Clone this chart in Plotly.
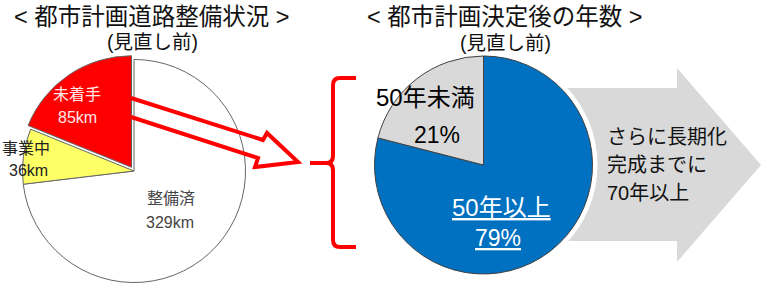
import plotly.graph_objects as go

W, H = 762, 287

# ---- data ----
road_labels = ["未着手", "事業中", "整備済"]
road_km = [85, 36, 329]
road_colors = ["#ff0000", "#ffff66", "#ffffff"]
road_pull = [0.04, 0, 0]

age_labels = ["50年未満", "50年以上"]
age_pct = [21, 79]
age_colors = ["#d9d9d9", "#0070c0"]

title_left = "< 都市計画道路整備状況 >"
title_right = "< 都市計画決定後の年数 >"
subtitle = "(見直し前)"
arrow_text = ["さらに長期化", "完成までに", "70年以上"]

FONT = "Liberation Sans, Arial, Noto Sans CJK JP, sans-serif"


def px(x):
    return x / W


def py(y):
    return 1 - y / H


fig = go.Figure()

# slices drawn clockwise from 12 o'clock, so the first listed slice
# (未着手) must end at 12 o'clock -> pass the arrays reversed
fig.add_trace(go.Pie(
    labels=road_labels[::-1], values=road_km[::-1], sort=False,
    direction="clockwise", rotation=0, pull=road_pull[::-1],
    marker=dict(colors=road_colors[::-1], line=dict(color="#666666", width=1)),
    textinfo="none", hoverinfo="label+value", showlegend=False,
    domain=dict(x=[px(17), px(251)], y=[0, py(55)]),
))

fig.add_trace(go.Pie(
    labels=age_labels[::-1], values=age_pct[::-1], sort=False,
    direction="clockwise", rotation=0,
    marker=dict(colors=age_colors[::-1], line=dict(color="#404040", width=1)),
    textinfo="none", hoverinfo="label+percent", showlegend=False,
    domain=dict(x=[px(374.5), px(592.5)], y=[py(274), py(56)]),
))


def P(*pts):
    return " ".join(f"{c}{px(x):.5f},{py(y):.5f}" for c, x, y in pts)


shapes = []
# grey block arrow behind the right pie
shapes.append(dict(
    type="path", xref="paper", yref="paper", layer="below",
    path=P(("M", 560, 88), ("L", 677, 88), ("L", 677, 68), ("L", 761, 165),
           ("L", 677, 262), ("L", 677, 241), ("L", 560, 241)) + " Z",
    fillcolor="#d9d9d9", line=dict(width=0),
))
# white halo round the right pie
shapes.append(dict(
    type="circle", xref="paper", yref="paper", layer="below",
    x0=px(483.5 - 114), x1=px(483.5 + 114), y0=py(165 + 114), y1=py(165 - 114),
    fillcolor="#ffffff", line=dict(width=0),
))
# hollow red arrow
shapes.append(dict(
    type="path", xref="paper", yref="paper", layer="above",
    path=P(("M", 131, 98), ("L", 263, 140), ("L", 267, 133), ("L", 298, 162),
           ("L", 255, 167), ("L", 258, 158), ("L", 131, 117)),
    fillcolor="rgba(0,0,0,0)", line=dict(color="#ff0000", width=4),
))
# red brace
shapes.append(dict(
    type="path", xref="paper", yref="paper", layer="above",
    path=P(("M", 356, 78), ("L", 340, 78), ("Q", 333, 78), ("", 333, 85),
           ("L", 333, 156), ("Q", 333, 163), ("", 326, 163), ("L", 310, 163),
           ("M", 326, 163), ("Q", 333, 163), ("", 333, 170), ("L", 333, 240),
           ("Q", 333, 247), ("", 340, 247), ("L", 356, 247)),
    fillcolor="rgba(0,0,0,0)", line=dict(color="#ff0000", width=4),
))

ann = []


def A(text, x, y, size, color="#000000", xanchor="center", weight="normal", under=False):
    f = dict(family=FONT, size=size, color=color, weight=weight)
    if under:
        f["lineposition"] = "under"
    ann.append(dict(text=text, x=px(x), y=py(y), xref="paper", yref="paper",
                    xanchor=xanchor, yanchor="middle", showarrow=False, font=f))


A(title_left, 152, 17, 23.5, "#111111")
A(subtitle, 152, 42, 19.5, "#111111")
A(title_right, 505, 17, 23.5, "#111111")
A(subtitle, 505, 43, 19.5, "#111111")

A(road_labels[0], 77, 95, 16, "#ffe8e8")
A(f"{road_km[0]}km", 77, 117, 16, "#ffe8e8")
A(road_labels[1], 26, 148, 16, "#222222")
A(f"{road_km[1]}km", 28, 170, 16, "#222222")
A(road_labels[2], 171, 198, 16, "#444444")
A(f"{road_km[2]}km", 170, 222, 16, "#444444")

A(age_labels[0], 425, 97, 24, "#000000")
A(f"{age_pct[0]}%", 437, 135, 23, "#000000")
A(age_labels[1], 501, 207, 24, "#ffffff", under=True)
A(f"{age_pct[1]}%", 498, 238, 23, "#ffffff", under=True)

for i, t in enumerate(arrow_text):
    A(t, 605, 137 + 28 * i, 20, "#111111", xanchor="left")

fig.update_layout(
    width=W, height=H, margin=dict(l=0, r=0, t=0, b=0),
    paper_bgcolor="#ffffff", plot_bgcolor="#ffffff",
    shapes=shapes, annotations=ann,
)

fig.write_html("out.html",
               config={"displayModeBar": False},
               post_script="document.body.style.margin='0px';"
                           "document.body.style.overflow='hidden';")
